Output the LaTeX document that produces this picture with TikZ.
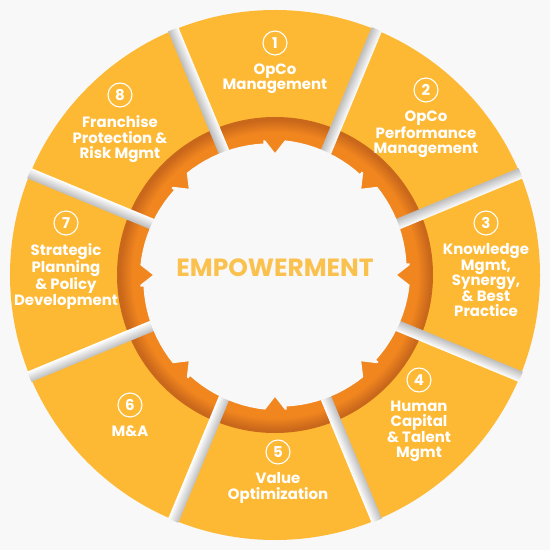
\documentclass[tikz,border=0pt]{standalone}
\usepackage{fontspec}
\setmainfont{Poppins}
\usetikzlibrary{positioning}

\definecolor{segyellow}{HTML}{FDB934}
\definecolor{ringorange}{HTML}{F1861F}
\definecolor{ringdark}{HTML}{C9671B}
\definecolor{paper}{HTML}{F8F8F8}
\definecolor{emptext}{HTML}{FBC14F}
\definecolor{sepgray}{HTML}{BDBDBD}

\pgfdeclareradialshading{ringshade}{\pgfpoint{0bp}{0bp}}{color(0bp)=(ringorange); color(22.6bp)=(ringorange); color(24.6bp)=(ringdark); color(25bp)=(ringdark); color(50bp)=(ringdark)}

\begin{document}
\begin{tikzpicture}[x=1bp,y=1bp,
    numnode/.style={circle, draw=white, line width=1.1bp, text=white, minimum size=24bp, inner sep=0pt, font=\bfseries\fontsize{15}{15}\selectfont},
    stagetext/.style={text=white, align=center, inner sep=0pt, font=\bfseries\fontsize{15}{15.5}\selectfont},
    ]
  \fill[paper] (-275,-275) rectangle (275,275);
  \useasboundingbox (-275,-275) rectangle (275,275);

  % wheel and ring
  \fill[segyellow] (0,0) circle (265);
  \shade[shading=ringshade] (0,0) circle (158);
  \foreach \a in {22.5,67.5,...,337.5}{
    \begin{scope}[transform canvas={rotate=\a}]
      \shade[top color=sepgray, bottom color=white] (133,-5.5) rectangle (266,5.5);
    \end{scope}
  }
  \fill[paper] (94.2:135) \foreach \a in {90,45,0,-45,-90,-135,-180,-225}{
      -- ({\a+4.2}:135) -- (\a:122) -- ({\a-4.2}:135)
      -- plot[domain=0:1, samples=12] ({\a-4.2-35.8*\x}:{135-3*\x})
      -- ({\a-40}:135) } -- cycle;

  \node[font=\bfseries\fontsize{25}{25}\selectfont, text=emptext] (core) at (0,7) {EMPOWERMENT};

  \node[numnode] (n1) at (0,232) {1};
  \node[stagetext, below=8bp of n1] (t1) {OpCo\\Management};
  \node[numnode] (n2) at (151,185) {2};
  \node[stagetext, below=8bp of n2] (t2) {OpCo\\Performance\\Management};
  \node[numnode] (n3) at (211,52) {3};
  \node[stagetext, below=8bp of n3] (t3) {Knowledge\\Mgmt,\\Synergy,\\\& Best\\Practice};
  \node[numnode] (n4) at (144,-105) {4};
  \node[stagetext, below=8bp of n4] (t4) {Human\\Capital\\\& Talent\\Mgmt};
  \node[numnode] (n5) at (3,-177) {5};
  \node[stagetext, below=8bp of n5] (t5) {Value\\Optimization};
  \node[numnode] (n6) at (-145,-130) {6};
  \node[stagetext, below=8bp of n6] (t6) {M\&A};
  \node[numnode] (n7) at (-209,52) {7};
  \node[stagetext, below=8bp of n7] (t7) {Strategic\\Planning\\\& Policy\\Development};
  \node[numnode] (n8) at (-155,180) {8};
  \node[stagetext, below=8bp of n8] (t8) {Franchise\\Protection \&\\Risk Mgmt};
\end{tikzpicture}
\end{document}
